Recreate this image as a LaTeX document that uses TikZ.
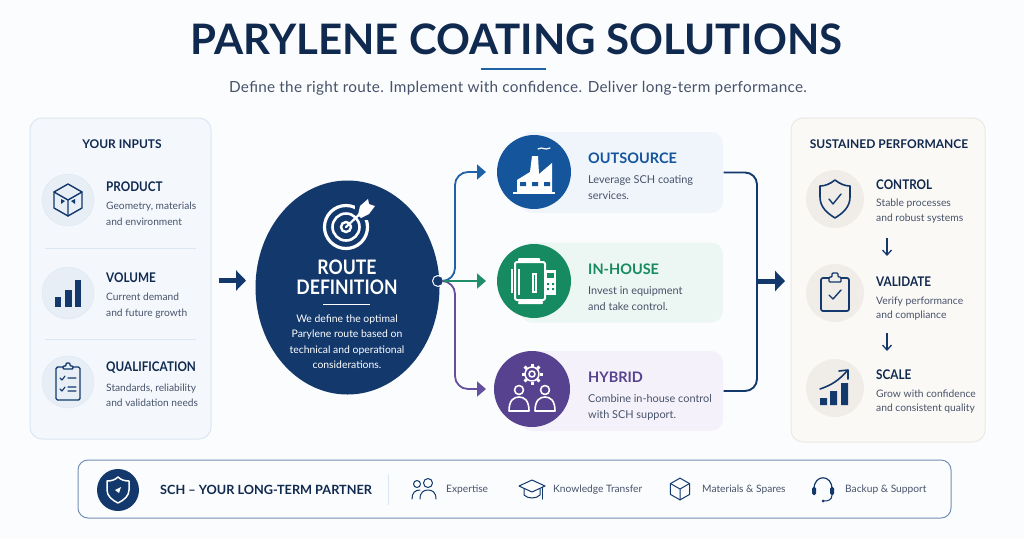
\documentclass[tikz,border=0pt]{standalone}
\usepackage{fontspec}
\setmainfont{Lato}
\newfontfamily\titlefont{Lato}
\newfontfamily\narrowfont[FakeStretch=0.88]{Lato}
\usetikzlibrary{arrows.meta,calc,shapes.geometric}
\definecolor{pagebg}{HTML}{FBFCFE}
\definecolor{ink}{HTML}{10294F}
\definecolor{navy}{HTML}{12386C}
\definecolor{greytext}{HTML}{47536A}
\definecolor{blueC}{HTML}{14559C}
\definecolor{greenC}{HTML}{168A60}
\definecolor{purpleC}{HTML}{57428F}
\definecolor{blueL}{HTML}{1F62A6}
\definecolor{greenL}{HTML}{1F8E69}
\definecolor{purpleL}{HTML}{64509E}
\definecolor{blueF}{HTML}{F0F5FB}
\definecolor{greenF}{HTML}{ECF6F2}
\definecolor{purpleF}{HTML}{F4F1FA}
\definecolor{leftfill}{HTML}{F4F8FD}
\definecolor{leftedge}{HTML}{DCE6F2}
\definecolor{leftcirc}{HTML}{E7EEF6}
\definecolor{rightfill}{HTML}{FBF9F6}
\definecolor{rightedge}{HTML}{EDE8E1}
\definecolor{rightcirc}{HTML}{F0EDE9}
\definecolor{barline}{HTML}{7390B2}
\tikzset{
  x=1pt,y=-1pt,
  panel/.style={rounded corners=12pt,line width=1pt,minimum height=0,inner sep=0},
  headtxt/.style={anchor=west,inner sep=0,text=ink,font=\narrowfont\bfseries\fontsize{13.3}{15}\selectfont},
  desctxt/.style={anchor=west,inner sep=0,align=left,text=greytext,font=\fontsize{10.2}{15.5}\selectfont},
  paneltitle/.style={inner sep=0,text=ink,font=\bfseries\fontsize{12}{14}\selectfont},
  cardhead/.style={anchor=west,inner sep=0,font=\bfseries\fontsize{14.5}{17}\selectfont},
  carddesc/.style={anchor=west,inner sep=0,align=left,text=greytext,font=\fontsize{10.9}{16}\selectfont},
  bartxt/.style={anchor=west,inner sep=0,text=greytext,font=\fontsize{10.2}{12}\selectfont},
  iconcirc/.style={circle,inner sep=0,draw=none},
  icon/.style={draw=navy,line width=1.4pt,line cap=round,line join=round},
  wicon/.style={draw=white,line width=1.6pt,line cap=round,line join=round},
  sep/.style={draw=leftedge,line width=0.8pt},
  bigarrow/.style={draw=navy,line width=5pt,-{Triangle[length=10pt,width=20pt]}},
  route/.style={line width=1.8pt,rounded corners=13pt,-{Triangle[length=9pt,width=15pt]}},
  smallarrow/.style={draw=navy,line width=1.3pt,-{Straight Barb[length=5pt,width=9pt]}},
}
\newcommand{\cubeglyph}{%
  \draw[icon] (0,-16)--(14,-8)--(14,8)--(0,16)--(-14,8)--(-14,-8)--cycle;
  \draw[icon] (-14,-8)--(0,0)--(14,-8) (0,0)--(0,16);}
\begin{document}
\begin{tikzpicture}
\useasboundingbox (0,0) rectangle (1024,539);
\fill[pagebg] (0,0) rectangle (1024,539);

% header
\node[inner sep=0,text=ink] (title) at (516.5,39.5) {\titlefont\bfseries\fontsize{42}{50}\selectfont PARYLENE COATING SOLUTIONS};
\draw[draw=blueL,line width=2.6pt] (481,69) -- (546,69);
\node[inner sep=0,text=greytext] (subtitle) at (518,88.5) {\fontsize{15.3}{18}\selectfont\addfontfeature{LetterSpace=1.9}Define the right route. Implement with confidence. Deliver long-term performance.};

% left panel
\node[panel,draw=leftedge,fill=leftfill,minimum width=181pt,minimum height=321pt] (inputs) at (120.5,278.5) {};
\node[paneltitle] (inputsT) at (122,144) {YOUR INPUTS};
\node[iconcirc,fill=leftcirc,draw=leftedge,minimum size=52pt] (i1) at (68,200) {};
\node[iconcirc,fill=leftcirc,draw=leftedge,minimum size=52pt] (i2) at (68,293) {};
\node[iconcirc,fill=leftcirc,draw=leftedge,minimum size=52pt] (i3) at (68,382) {};
\node[headtxt] (i1h) at (106,186.5) {PRODUCT};
\node[desctxt] (i1d) at (106,214) {Geometry, materials\\and environment};
\node[headtxt] (i2h) at (106,277.5) {VOLUME};
\node[desctxt] (i2d) at (106,305.5) {Current demand\\and future growth};
\node[headtxt] (i3h) at (106,367.5) {QUALIFICATION};
\node[desctxt] (i3d) at (106,395.5) {Standards, reliability\\and validation needs};
\draw[sep] (45,248) -- (196,248);
\draw[sep] (45,339) -- (196,339);
\begin{scope}[shift={(68,200)}]
  \cubeglyph
  \fill[navy] (-7,-1)--(-3,1)--(-7,4)--cycle;
  \fill[navy] (7,-1)--(3,1)--(7,4)--cycle;
\end{scope}
\begin{scope}[shift={(68,293)}]
  \fill[navy] (-13,4) rectangle (-7,14);
  \fill[navy] (-3,-3) rectangle (4,14);
  \fill[navy] (7,-13) rectangle (13,14);
\end{scope}
\begin{scope}[shift={(68,382)}]
  \draw[icon,rounded corners=1.5pt] (-5,-15) -- (-12,-15) -- (-12,18) -- (12,18) -- (12,-15) -- (5,-15);
  \draw[icon,rounded corners=1pt] (-5,-13) -- (-5,-16) -- (-2,-16) -- (-2,-19) -- (2,-19) -- (2,-16) -- (5,-16) -- (5,-13) -- cycle;
  \draw[icon,line width=1.1pt] (-8,-4)--(-6,-2)--(-3,-6) (0,-4)--(8,-4) (-8,7)--(-6,9)--(-3,5) (0,5)--(8,5) (0,9)--(8,9);
\end{scope}

% route definition
\node[ellipse,fill=navy,draw=none,inner sep=0,minimum width=184pt,minimum height=214pt] (route) at (347.5,287.5) {};
\begin{scope}[shift={(346,227)}]
  \draw[white,line width=3.2pt] (0,0) circle (21.5);
  \fill[navy] (9,-23) rectangle (30,-7);
  \draw[white,line width=2.6pt] (0,0) circle (13.5);
  \draw[white,line width=2.4pt] (0,0) circle (5);
  \draw[white,line width=2.2pt,line cap=round] (0,0) -- (17,-16);
  \fill[white] (12,-12)--(14,-21)--(22,-28)--(23,-23)--(29,-21)--(23,-13)--(15,-9)--cycle;
\end{scope}
\node[inner sep=0,text=white,align=center,font=\narrowfont\bfseries\fontsize{20}{20.5}\selectfont] (routeT) at (347,277.5) {ROUTE\\DEFINITION};
\draw[white,line width=0.9pt] (323,304) -- (370,304);
\node[inner sep=0,text=white,align=center,font=\fontsize{10.4}{15.5}\selectfont] (routeD) at (347,341.5) {We define the optimal\\Parylene route based on\\technical and operational\\considerations.};

% arrow in
\coordinate (arrIn1) at (219,280.5);
\coordinate (arrIn2) at (246,280.5);
\draw[bigarrow] (arrIn1) -- (arrIn2);

% option cards
\node[panel,fill=blueF,minimum width=203pt,minimum height=81pt] (c1) at (621.5,172.5) {};
\node[panel,fill=greenF,minimum width=203pt,minimum height=80pt] (c2) at (621.5,282.5) {};
\node[panel,fill=purpleF,minimum width=203pt,minimum height=80pt] (c3) at (621.5,391) {};
\node[iconcirc,fill=blueC,minimum size=74pt] (o1) at (534,172) {};
\node[iconcirc,fill=greenC,minimum size=74pt] (o2) at (534,281) {};
\node[iconcirc,fill=purpleC,minimum size=76pt] (o3) at (532,389) {};
\node[cardhead,text=blueC] (c1h) at (588,158.5) {OUTSOURCE};
\node[carddesc] (c1d) at (588,188) {Leverage SCH coating\\services.};
\node[cardhead,text=greenC] (c2h) at (588,269) {IN-HOUSE};
\node[carddesc] (c2d) at (588,299) {Invest in equipment\\and take control.};
\node[cardhead,text=purpleC] (c3h) at (588,377.5) {HYBRID};
\node[carddesc] (c3d) at (588,407) {Combine in-house control\\with SCH support.};
% factory
\begin{scope}[shift={(534,172)}]
  \fill[white] (-17,20) -- (-17,8) -- (-4,0) -- (-2,-16) -- (4,-16) -- (5,2) -- (18,-9) -- (18,8) -- (18,20) -- cycle;
  \draw[white,line width=1.6pt] (-21,21) -- (21,21);
  \draw[white,line width=1.2pt,line cap=round] (4,-23) .. controls (9,-26) and (10,-21) .. (16,-24);
  \fill[blueC] (-14,10) rectangle (-8,14) (-2,10) rectangle (4,14) (10,10) rectangle (16,14);
\end{scope}
% machine
\begin{scope}[shift={(534,281)}]
  \fill[white,rounded corners=1pt] (-16,-23) rectangle (6,-19);
  \fill[white,rounded corners=1pt] (-16,20) rectangle (9,23);
  \draw[white,line width=2pt,rounded corners=2pt] (-19,-19) rectangle (11,19);
  \draw[white,line width=1.2pt] (-15,-12) -- (-15,14);
  \draw[white,line width=2.2pt] (-22,-12) -- (-22,12);
  \draw[white,line width=1.4pt] (-1,-7) rectangle (2,11);
  \fill[white] (11,-11) rectangle (22,14);
  \fill[greenC] (13,-8) rectangle (20,-3);
  \fill[greenC] (13,2) rectangle (15,4) (18,2) rectangle (20,4) (13,7) rectangle (15,9) (18,7) rectangle (20,9);
\end{scope}
% gear and people
\begin{scope}[shift={(532,389)}]
  \draw[wicon,line width=1.5pt] (0,-15) circle (7);
  \draw[wicon] (0,-15) circle (3);
  \foreach \a in {0,45,...,315} {\draw[white,line width=3pt] ($(0,-15)+(\a:7.5)$) -- ($(0,-15)+(\a:10.5)$);}
  \draw[wicon] (-13,1) circle (4.5);
  \draw[wicon] (13,1) circle (4.5);
  \draw[wicon] (-23,22) -- (-3,22) .. controls (-3,11) and (-8,8) .. (-13,8) .. controls (-18,8) and (-23,11) .. (-23,22);
  \draw[wicon] (3,22) -- (23,22) .. controls (23,11) and (18,8) .. (13,8) .. controls (8,8) and (3,11) .. (3,22);
\end{scope}

% routes
\node[iconcirc,fill=navy,draw=white,line width=1pt,minimum size=11pt] (hub) at (438,281) {};
\coordinate (tipA) at (486,172);
\coordinate (tipB) at (486,281);
\coordinate (tipC) at (486,389);
\draw[route,draw=blueL] (hub.east) -- (455,281) |- (tipA);
\draw[route,draw=purpleL] (hub.east) -- (455,281) |- (tipC);
\draw[route,draw=greenL,rounded corners=0pt] (hub.east) -- (tipB);

% bracket
\coordinate (brk) at (757,281);
\coordinate (arrOut) at (785,281);
\draw[draw=navy,line width=1.9pt,rounded corners=12pt] (c1.east) -| (brk) |- (c3.east);
\draw[bigarrow] (brk) -- (arrOut);

% right panel
\node[panel,draw=rightedge,fill=rightfill,minimum width=194pt,minimum height=324pt] (perf) at (888,280) {};
\node[paneltitle] (perfT) at (889,144) {SUSTAINED PERFORMANCE};
\node[iconcirc,fill=rightcirc,minimum size=58pt] (p1) at (835,199) {};
\node[iconcirc,fill=rightcirc,minimum size=58pt] (p2) at (835,293) {};
\node[iconcirc,fill=rightcirc,minimum size=58pt] (p3) at (835,388) {};
\node[headtxt] (p1h) at (876,185) {CONTROL};
\node[desctxt,font=\fontsize{10.3}{14.5}\selectfont] (p1d) at (876,211) {Stable processes\\and robust systems};
\node[headtxt] (p2h) at (876,282) {VALIDATE};
\node[desctxt,font=\fontsize{10.3}{14.5}\selectfont] (p2d) at (876,308.5) {Verify performance\\and compliance};
\node[headtxt] (p3h) at (876,375) {SCALE};
\node[desctxt,font=\fontsize{10.3}{14.5}\selectfont] (p3d) at (876,401.5) {Grow with confidence\\and consistent quality};
\coordinate (d1a) at (887,238);
\coordinate (d1b) at (887,256);
\coordinate (d2a) at (887,333);
\coordinate (d2b) at (887,351);
\draw[smallarrow] (d1a) -- (d1b);
\draw[smallarrow] (d2a) -- (d2b);
\begin{scope}[shift={(835,199)}]
  \draw[icon,line width=1.6pt] (0,-19) .. controls (5,-15) and (10,-13) .. (15,-13) -- (15,-2) .. controls (15,8) and (8,14) .. (0,19) .. controls (-8,14) and (-15,8) .. (-15,-2) -- (-15,-13) .. controls (-10,-13) and (-5,-15) .. (0,-19) -- cycle;
  \draw[icon] (-6,0) -- (-2,5) -- (6,-5);
\end{scope}
\begin{scope}[shift={(835,293)}]
  \draw[icon,line width=1.7pt,rounded corners=2pt] (-6,-15) -- (-14,-15) -- (-14,18) -- (14,18) -- (14,-15) -- (6,-15);
  \draw[icon,rounded corners=1pt] (-6,-11) -- (-6,-16) -- (-3,-16) -- (-3,-20) -- (3,-20) -- (3,-16) -- (6,-16) -- (6,-11) -- cycle;
  \draw[icon] (-6,2) -- (-2,6) -- (6,-3);
\end{scope}
\begin{scope}[shift={(835,388)}]
  \fill[navy] (-15,10) rectangle (-8,17) (-5,3) rectangle (2,17) (6,-5) rectangle (13,17);
  \draw[icon,line width=1.6pt] (-15,1) .. controls (-3,-3) and (4,-8) .. (12,-17);
  \draw[icon,line width=1.6pt] (4,-17) -- (13,-18) -- (13,-9);
\end{scope}

% bottom bar
\node[draw=barline,fill=pagebg,line width=1pt,rounded corners=10pt,inner sep=0,minimum width=873pt,minimum height=58pt] (bar) at (514.5,489) {};
\node[iconcirc,fill=navy,minimum size=42pt] (s0) at (118,490) {};
\begin{scope}[shift={(118,490)}]
  \draw[wicon,line width=1.5pt] (0,-13) .. controls (3,-10) and (7,-9) .. (11,-9) -- (11,0) .. controls (11,6) and (6,10) .. (0,13) .. controls (-6,10) and (-11,6) .. (-11,0) -- (-11,-9) .. controls (-7,-9) and (-3,-10) .. (0,-13) -- cycle;
  \fill[white] (-3,0) -- (3,-3) -- (1,3) -- cycle;
\end{scope}
\node[inner sep=0,anchor=west,text=ink,font=\bfseries\fontsize{12.7}{15}\selectfont] (barT) at (160,490) {SCH – YOUR LONG-TERM PARTNER};
\draw[draw=leftedge,line width=1pt] (388,474) -- (388,505);
\node[bartxt] (b1) at (446,489.5) {Expertise};
\node[bartxt] (b2) at (553,489.5) {Knowledge Transfer};
\node[bartxt] (b3) at (702,489.5) {Materials \& Spares};
\node[bartxt] (b4) at (845,489.5) {Backup \& Support};
\begin{scope}[shift={(424,489)}]
  \draw[icon,line width=1pt] (4,-6) circle (4.5);
  \draw[icon,line width=1pt] (-7,-5) circle (3.5);
  \draw[icon,line width=1pt] (-4,10) .. controls (-4,3) and (0,1) .. (4,1) .. controls (8,1) and (12,3) .. (12,10);
  \draw[icon,line width=1pt] (-12,10) .. controls (-12,4) and (-9,1) .. (-4,1);
\end{scope}
\begin{scope}[shift={(532,489)}]
  \draw[icon,line width=1pt] (-13,-3) -- (0,-9) -- (13,-3) -- (0,3) -- cycle;
  \draw[icon,line width=1pt] (-8,0) -- (-8,6) .. controls (-4,10) and (4,10) .. (8,6) -- (8,0);
  \draw[icon,line width=1pt] (10,-2) -- (10,10);
\end{scope}
\begin{scope}[shift={(680,489)},scale=0.68]
  \draw[icon,line width=1pt] (0,-16)--(14,-8)--(14,8)--(0,16)--(-14,8)--(-14,-8)--cycle;
  \draw[icon,line width=1pt] (-14,-8)--(0,0)--(14,-8) (0,0)--(0,16);
\end{scope}
\begin{scope}[shift={(823,489)}]
  \draw[icon,line width=1.2pt] (-9,0) .. controls (-9,-15) and (9,-15) .. (9,0);
  \fill[navy,rounded corners=1.5pt] (-11,-2) rectangle (-7,6);
  \fill[navy,rounded corners=1.5pt] (7,-2) rectangle (11,6);
  \draw[icon,line width=1pt] (9,6) .. controls (9,11) and (5,12) .. (1,12);
  \fill[navy] (0,12) circle (1.5);
\end{scope}
\end{tikzpicture}
\end{document}
